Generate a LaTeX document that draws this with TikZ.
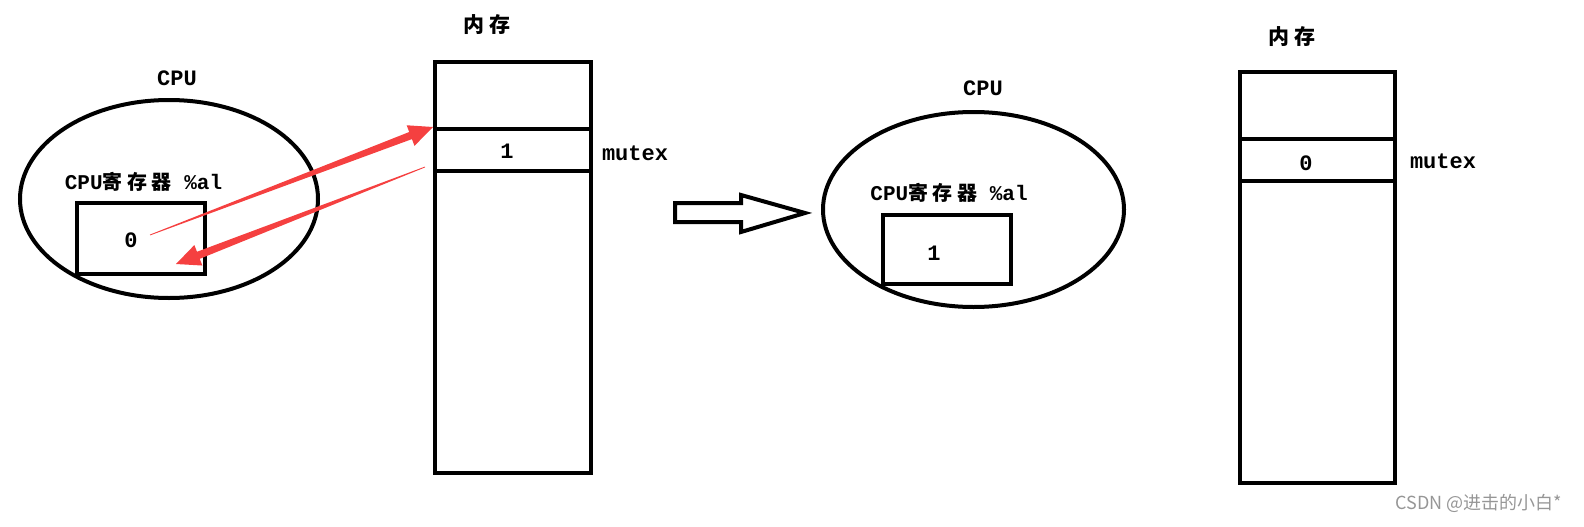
\documentclass[tikz,border=0pt]{standalone}
\usepackage{fontspec}
\usetikzlibrary{calc,shapes.geometric}
\newfontfamily\cjk{Noto Sans CJK SC}
\newfontfamily\mono{Liberation Mono}
\definecolor{arrowred}{RGB}{245,64,64}
\definecolor{wmgray}{RGB}{150,150,150}
\newcommand{\redtaper}[2]{%
  \coordinate (hb) at ($(#2)!24pt!(#1)$);
  \fill[arrowred] ($(#1)!0.4pt!90:(#2)$) -- ($(hb)!3.8pt!-90:(#1)$) -- ($(hb)!11pt!-90:(#1)$) -- (#2)
     -- ($(hb)!11pt!90:(#1)$) -- ($(hb)!3.8pt!90:(#1)$) -- ($(#1)!0.4pt!-90:(#2)$) -- cycle;}
\newcommand{\regtext}{{\mono\bfseries\fontsize{21pt}{21pt}\selectfont CPU}{\cjk\bfseries\fontsize{20pt}{20pt}\selectfont 寄\hspace{4.5pt}存\hspace{4.5pt}器}{\mono\bfseries\fontsize{21pt}{21pt}\selectfont\ \%al}}
\tikzset{
  thick line/.style={line width=4pt, draw=black},
  cell/.style={thick line, rectangle, inner sep=0pt, minimum width=#1},
  cpuell/.style={thick line, ellipse, inner sep=0pt},
  lbl/.style={font=\mono\bfseries\fontsize{22pt}{22pt}\selectfont, inner sep=0pt},
  cjklbl/.style={font=\cjk\bfseries\fontsize{21pt}{21pt}\selectfont, inner sep=0pt},
}
\begin{document}
\begin{tikzpicture}[x=1pt,y=-1pt]
\useasboundingbox (0,0) rectangle (1584,527);
% ---- left CPU ----
\node[cpuell, minimum width=298pt, minimum height=198pt] (cpuL) at (169,199) {};
\node[lbl] (cpuLt) at (177,78) {CPU};
\node[inner sep=0pt] (regLt) at (143.5,182) {\regtext};
\node[cell=128pt, minimum height=71pt] (regL) at (141,238.5) {};
\node[lbl] (regLv) at (131,240) {0};
% ---- left memory ----
\node[cjklbl] (memLt) at (487,25) {内\hspace{5pt}存};
\node[cell=156pt, minimum height=67pt] (memLa) at (513,95.5) {};
\node[cell=156pt, minimum height=42pt] (memLb) at (513,150) {};
\node[cell=156pt, minimum height=302pt] (memLc) at (513,322) {};
\node[lbl] (memLv) at (507,151) {1};
\node[lbl] (mutL) at (635,153) {mutex};
% ---- red arrows ----
\coordinate (a1s) at (150,235);
\coordinate (a1e) at (memLb.north west);
\redtaper{a1s}{a1e}
\coordinate (a2s) at (425,167);
\coordinate (a2e) at (176,264);
\redtaper{a2s}{a2e}
% ---- hollow arrow ----
\draw[line width=4pt, line join=miter] (675,203) -- (741,203) -- (741,195) -- (805,213) -- (741,232) -- (741,222) -- (675,222) -- cycle;
% ---- right CPU ----
\node[cpuell, minimum width=301pt, minimum height=195pt] (cpuR) at (973.5,209.5) {};
\node[lbl] (cpuRt) at (983,88) {CPU};
\node[inner sep=0pt] (regRt) at (949,193) {\regtext};
\node[cell=128pt, minimum height=69pt] (regR) at (947,249.5) {};
\node[lbl] (regRv) at (934,253) {1};
% ---- right memory ----
\node[cjklbl] (memRt) at (1292,37) {内\hspace{5pt}存};
\node[cell=155pt, minimum height=67pt] (memRa) at (1317.5,105.5) {};
\node[cell=155pt, minimum height=42pt] (memRb) at (1317.5,160) {};
\node[cell=155pt, minimum height=302pt] (memRc) at (1317.5,332) {};
\node[lbl] (memRv) at (1306,163) {0};
\node[lbl] (mutR) at (1443,161) {mutex};
% ---- watermark ----
\node[inner sep=0pt, text=wmgray, font=\cjk\fontsize{18pt}{18pt}\selectfont] (wm) at (1479,503) {CSDN @进击的小白*};
\end{tikzpicture}
\end{document}
